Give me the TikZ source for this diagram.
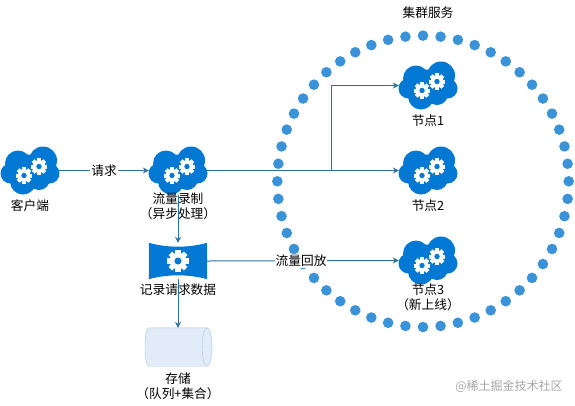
\documentclass[tikz,border=0pt]{standalone}
\usepackage{fontspec}
\usepackage{xcolor}
\usetikzlibrary{arrows.meta, positioning}
\newfontfamily\cjk{Noto Sans CJK SC}
\definecolor{iconblue}{RGB}{0, 120, 212}
\definecolor{dotblue}{RGB}{58, 147, 216}
\definecolor{linkblue}{RGB}{46, 111, 158}
\definecolor{drumfill}{RGB}{226, 236, 248}
\definecolor{drumline}{RGB}{168, 198, 232}
\tikzset{
  gearbit/.pic={
    \foreach \a in {0,45,90,135}
      \fill[white, rotate=\a] (-2,-8.3) rectangle (2,8.3);
    \fill[white] (0,0) circle (6.4);
    \fill[iconblue] (0,0) circle (2.7);
  },
  cloudgear/.pic={
    \fill[iconblue] (-12,-7) circle (13) (13,-10) circle (14) (-19.5,3) circle (10)
      (19.5,3) circle (10) (-7,11) circle (13) (9,8.5) circle (11) (0,0) circle (16);
    \pic at (-6,5) {gearbit};
    \pic at (9,-4) {gearbit};
  },
}
\begin{document}
\begin{tikzpicture}[
    x=1pt, y=-1pt,
    font=\cjk\fontsize{12.7}{15}\selectfont,
    cloudbox/.style={rectangle, inner sep=0pt, minimum width=58pt, minimum height=48pt},
    caption/.style={align=center, inner sep=0pt},
    arrow/.style={-{Stealth[length=6pt, width=6pt]}, draw=linkblue, line width=1pt},
    wire/.style={draw=linkblue, line width=1pt},
    ringdot/.style={fill=dotblue},
]
\useasboundingbox (0,0) rectangle (575,405);

% ring of the cluster
\foreach \a in {1,...,52}
  \fill[ringdot] ({423+145.7*cos(\a*6.92308)},{181.3+145.7*sin(\a*6.92308)}) circle (5.3);

\node[cloudbox] (client) at (30,170.5)  {};
\node[cloudbox] (record) at (178,170.5) {};
\node[cloudbox] (node1)  at (428,85.5)  {};
\node[cloudbox] (node2)  at (428,170.5) {};
\node[cloudbox] (node3)  at (428,260.5) {};
\pic at (client) {cloudgear};
\pic at (record) {cloudgear};
\pic at (node1)  {cloudgear};
\pic at (node2)  {cloudgear};
\pic at (node3)  {cloudgear};

\node[rectangle, inner sep=0pt, minimum width=58pt, minimum height=36pt] (queue) at (178,261) {};
\fill[iconblue] (queue.north west) .. controls (168,248) and (188,248) .. (queue.north east)
  -- (queue.south east) .. controls (188,274) and (168,274) .. (queue.south west) -- cycle;
\pic[scale=1.3] at (queue) {gearbit};

\node[rectangle, inner sep=0pt, minimum width=58pt, minimum height=38pt] (store) at (178,347) {};
\filldraw[draw=drumline, fill=drumfill] (store.north west) -- (store.north east)
  .. controls (213.5,328) and (213.5,366) .. (store.south east) -- (store.south west)
  .. controls (143.7,366) and (143.7,328) .. (store.north west) -- cycle;
\draw[drumline] (store.north east) .. controls (200.5,328) and (200.5,366) .. (store.south east);

\node[caption, below=5pt of client] (clienttxt) {客户端};
\node[caption, below=-2pt of record] (recordtxt) {流量录制\\（异步处理）};
\node[caption, below=4.5pt of queue] (queuetxt) {记录请求数据};
\node[caption, below=6.5pt of store] (storetxt) {存储\\（队列+集合）};
\node[caption, below=5pt of node1] (node1txt) {节点1};
\node[caption, below=5pt of node2] (node2txt) {节点2};
\node[caption, below=-1pt of node3] (node3txt) {节点3\\（新上线）};
\node[caption] (ringtxt) at (428,13) {集群服务};
\node[caption, text=black!35, font=\cjk\fontsize{12}{14}\selectfont] (mark) at (509,386) {@稀土掘金技术社区};

\coordinate (branch) at (331,170.5);
\draw[arrow] (client.east) -- node[fill=white, inner sep=1pt] {请求} (record.west);
\draw[wire] (record.east) -- (branch);
\draw[arrow] (branch) -- (node2.west);
\draw[arrow] (branch) |- (node1.west);
\draw[arrow] (record.south) -- (queue.north);
\draw[arrow] (queue.east) -- node[pos=0.49, fill=white, inner sep=1pt] {流量回放} (node3.west);
\draw[arrow] (queue.south) -- (store.north);

\end{tikzpicture}
\end{document}
